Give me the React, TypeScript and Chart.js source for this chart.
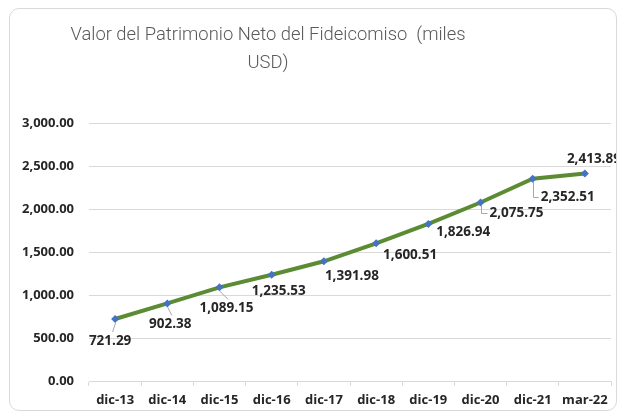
import React, { useEffect, useRef } from "react";
import { Chart, registerables } from "chart.js";

Chart.register(...registerables);

const categories = ["dic-13", "dic-14", "dic-15", "dic-16", "dic-17", "dic-18", "dic-19", "dic-20", "dic-21", "mar-22"];
const values = [721.29, 902.38, 1089.15, 1235.53, 1391.98, 1600.51, 1826.94, 2075.75, 2352.51, 2413.89];
const titleLines = ["Valor del Patrimonio Neto del Fideicomiso  (miles", "USD)"];
const yMin = 0;
const yMax = 3000;
const yStep = 500;

// label placement (style only): offset from point and leader type
const labelOffsets: [number, number, string][] = [
  [-5, 22, "line"],
  [3, 21, "line"],
  [7, 21, "line"],
  [7, 16, "none"],
  [28, 15, "none"],
  [34, 12, "none"],
  [35, 8, "none"],
  [36, 11, "elbow"],
  [35, 18, "elbow"],
  [9, -14, "none"],
];

const fmt = (v: number) =>
  v.toLocaleString("en-US", { minimumFractionDigits: 2, maximumFractionDigits: 2 });

const LABEL_FONT = "bold 13.5px 'Open Sans'";

const titlePlugin = {
  id: "customTitle",
  afterDraw(chart: any) {
    const ctx = chart.ctx;
    ctx.save();
    ctx.font = "300 18.4px Roboto";
    ctx.fillStyle = "#595959";
    ctx.textAlign = "center";
    ctx.textBaseline = "alphabetic";
    ctx.fillText(titleLines[0], 258, 31);
    ctx.fillText(titleLines[1], 258, 59);
    ctx.restore();
  },
};

const labelPlugin = {
  id: "pointLabels",
  afterDatasetsDraw(chart: any) {
    const ctx = chart.ctx;
    const meta = chart.getDatasetMeta(0);
    ctx.save();
    ctx.font = LABEL_FONT;
    meta.data.forEach((pt: any, i: number) => {
      const [dx, dy, leader] = labelOffsets[i];
      const text = fmt(values[i]);
      const lx = pt.x + dx;
      const ly = pt.y + dy;
      const w = ctx.measureText(text).width;
      ctx.strokeStyle = "#a6a6a6";
      ctx.lineWidth = 1;
      if (leader === "line") {
        ctx.beginPath();
        ctx.moveTo(pt.x + 0.5, pt.y + 4);
        ctx.lineTo(lx + (pt.x > lx ? 2 : 1) + 0.5, ly - 9);
        ctx.stroke();
      } else if (leader === "elbow") {
        ctx.beginPath();
        ctx.moveTo(Math.round(pt.x) + 0.5, pt.y + 3);
        ctx.lineTo(Math.round(pt.x) + 0.5, Math.round(ly) + 0.5);
        ctx.lineTo(lx - w / 2 - 2, Math.round(ly) + 0.5);
        ctx.stroke();
      }
      ctx.fillStyle = "#262626";
      ctx.textAlign = "center";
      ctx.textBaseline = "middle";
      ctx.fillText(text, lx, ly);
    });
    ctx.restore();
  },
};

export default function App() {
  const ref = useRef<HTMLCanvasElement | null>(null);
  useEffect(() => {
    document.body.style.overflow = "hidden";
    if (!ref.current) return;
    const chart = new Chart(ref.current, {
      type: "line",
      data: {
        labels: categories,
        datasets: [
          {
            data: values,
            borderColor: "#5B8B32",
            borderWidth: 4,
            pointStyle: "rectRot",
            pointRadius: 4,
            pointBackgroundColor: "#4472C4",
            pointBorderColor: "#4472C4",
            pointBorderWidth: 0,
            tension: 0,
          },
        ],
      },
      options: {
        responsive: false,
        animation: false,
        layout: { padding: { top: 114, right: 5, left: 0, bottom: 0 } },
        plugins: {
          legend: { display: false },
          title: { display: false },
          tooltip: { enabled: false },
        },
        scales: {
          x: {
            offset: true,
            grid: {
              offset: true,
              drawOnChartArea: false,
              drawTicks: true,
              tickLength: 5,
              color: "#d9d9d9",
            },
            border: { display: true, color: "#d9d9d9" },
            ticks: {
              color: "#262626",
              font: { family: "'Open Sans'", size: 13, weight: "bold" },
              padding: 6,
              maxRotation: 0,
              autoSkip: false,
            },
            afterFit(scale: any) {
              scale.height = 29;
            },
          },
          y: {
            min: yMin,
            max: yMax,
            grid: { color: "#d9d9d9", drawTicks: false },
            border: { display: false },
            ticks: {
              stepSize: yStep,
              color: "#262626",
              font: { family: "'Open Sans'", size: 13, weight: "bold" },
              padding: 15,
              callback: (v: any) => fmt(Number(v)),
            },
            afterFit(scale: any) {
              scale.width = 79;
            },
          },
        },
      },
      plugins: [titlePlugin, labelPlugin],
    });
    return () => chart.destroy();
  }, []);
  return (
    <div
      style={{
        position: "absolute",
        left: 9,
        top: 8,
        width: 606,
        height: 401,
        border: "1px solid #d9d9d9",
        borderRadius: 10,
        background: "#fff",
      }}
    >
      <canvas ref={ref} width={606} height={401} style={{ display: "block" }} />
    </div>
  );
}
